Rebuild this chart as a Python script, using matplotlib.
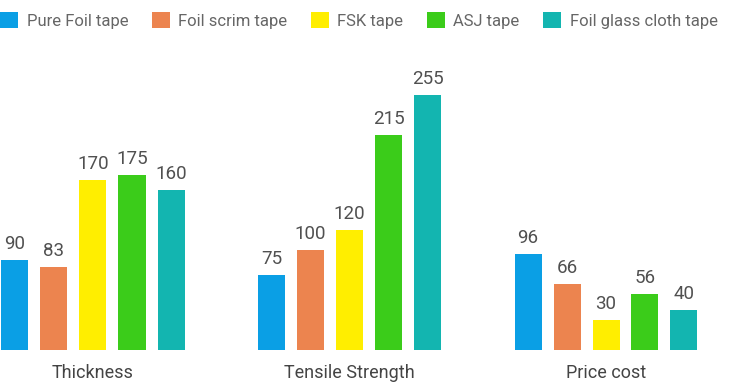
import numpy as np
import matplotlib
matplotlib.use('Agg')
import matplotlib.pyplot as plt

plt.rcParams['font.family'] = ['Roboto', 'DejaVu Sans']

categories = ['Thickness', 'Tensile Strength', 'Price cost']
series = ['Pure Foil tape', 'Foil scrim tape', 'FSK tape', 'ASJ tape', 'Foil glass cloth tape']
values = [
    [90, 75, 96],
    [83, 100, 66],
    [170, 120, 30],
    [175, 215, 56],
    [160, 255, 40],
]
colors = ['#0A9FE5', '#EC844F', '#FFEE00', '#3BCC1A', '#13B5B0']

fig = plt.figure(figsize=(7.3, 3.86), dpi=100)
ax = fig.add_axes([0, 36/386, 1, 350/386])

x = np.arange(len(categories))
step = 39/256.5
width = 27/256.5
bars = []
for i, (name, vals, c) in enumerate(zip(series, values, colors)):
    b = ax.bar(x + (i - 2)*step, vals, width, color=c, label=name)
    bars.append(b)
    for xi, v in zip(x + (i - 2)*step, vals):
        ax.annotate(str(v), (xi, v), xytext=(0, 5), textcoords='offset points',
                    ha='center', va='bottom', fontsize=13.5, color='#505050')

ax.set_xlim(-93/256.5, (730-93)/256.5)
ax.set_ylim(0, 350)
ax.set_xticks(x)
ax.set_xticklabels(categories, fontsize=13, color='#444444')
ax.tick_params(axis='x', length=0, pad=10)
ax.set_yticks([])
for s in ax.spines.values():
    s.set_visible(False)
ax.patch.set_alpha(0)

fig.legend(handles=bars, loc='upper left', bbox_to_anchor=(0, 1 - 12/386), ncol=5,
           frameon=False, fontsize=12, handlelength=1.1, handleheight=1.1,
           handletextpad=0.5, columnspacing=1.4, borderpad=0, borderaxespad=0,
           labelcolor='#666666')

fig.savefig('out.png', dpi=100)
